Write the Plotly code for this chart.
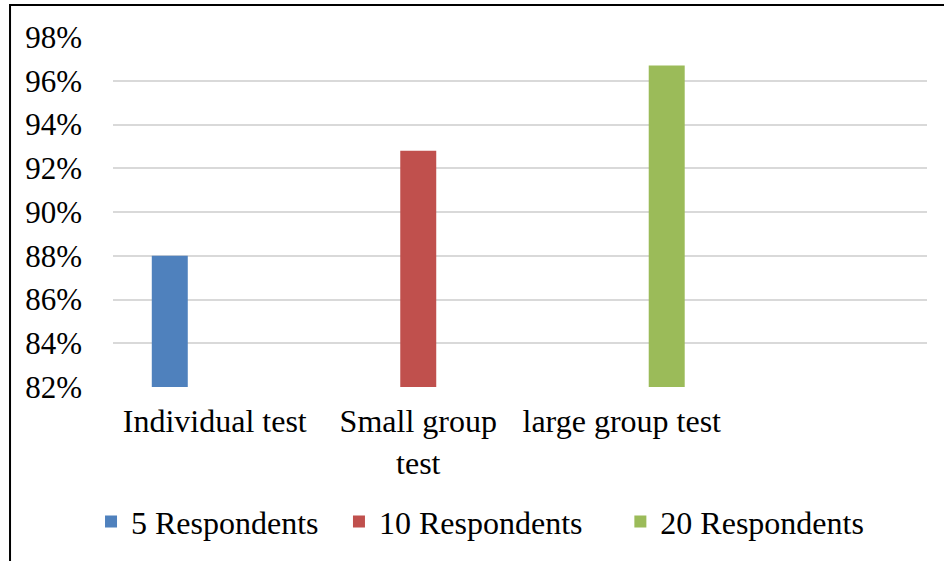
import plotly.graph_objects as go

categories = ["Individual test", "Small group<br>test", "large group test", " "]
series_names = ["5 Respondents", "10 Respondents", "20 Respondents"]
series_values = [
    [88.0, None, None, None],
    [None, 92.8, None, None],
    [None, None, 96.7, None],
]
colors = ["#4f81bd", "#c0504d", "#9bbb59"]
y_ticks = [82, 84, 86, 88, 90, 92, 94, 96, 98]

FONT = "Liberation Serif, Times New Roman, DejaVu Serif, serif"
FS = 32

legend_ids = ["legend", "legend2", "legend3"]
legend_x = [-0.027, 0.2776, 0.6233]

fig = go.Figure()
for name, vals, col, lid in zip(series_names, series_values, colors, legend_ids):
    fig.add_trace(go.Bar(x=categories, y=vals, name=name, legend=lid,
                         marker=dict(color=col, line=dict(width=0))))

legend_common = dict(orientation="h", xanchor="left", y=-0.385, yanchor="middle",
                     font=dict(family=FONT, size=FS, color="black"),
                     bgcolor="rgba(0,0,0,0)", borderwidth=0)

fig.update_layout(
    width=944, height=561,
    paper_bgcolor="white", plot_bgcolor="white",
    margin=dict(l=113, r=17, t=37, b=174),
    barmode="group", bargap=0.337, bargroupgap=0.2,
    font=dict(family=FONT, size=FS, color="black"),
    legend=dict(x=legend_x[0], **legend_common),
    legend2=dict(x=legend_x[1], **legend_common),
    legend3=dict(x=legend_x[2], **legend_common),
    showlegend=True,
)
fig.update_xaxes(
    type="category", categoryorder="array", categoryarray=categories,
    range=[-0.5, 3.5], showgrid=False, showline=False, ticks="",
    tickfont=dict(family=FONT, size=FS, color="black"), ticklabelstandoff=12,
)
fig.update_yaxes(
    range=[82, 98], tickvals=y_ticks, ticktext=[f"{v}%" for v in y_ticks],
    showgrid=True, gridcolor="#d9d9d9", gridwidth=1.5, zeroline=False, showline=False,
    ticks="", tickfont=dict(family=FONT, size=31, color="black"), ticklabelstandoff=30,
)
fig.add_shape(type="rect", xref="paper", yref="paper",
              x0=-0.1265, x1=1.05, y0=-0.7, y1=1.0914,
              line=dict(color="black", width=2), fillcolor="rgba(0,0,0,0)", layer="above")

fig.write_html("out.html", config={"displayModeBar": False},
               post_script="document.body.style.margin='0';")
